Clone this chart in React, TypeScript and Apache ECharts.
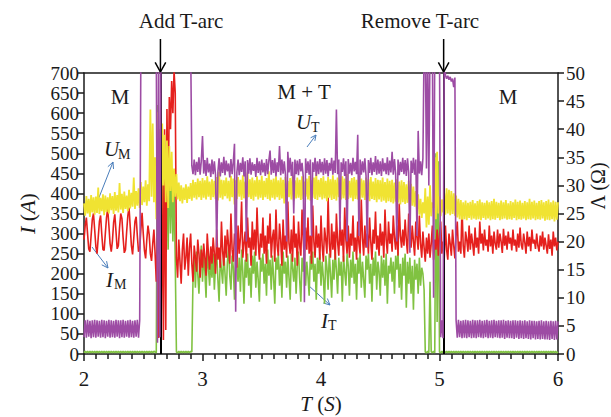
import React, { useEffect, useRef } from "react";
import * as echarts from "echarts";

// time base of the recorded signals (s)
const T_START = 2;
const T_STEP = 0.01;

const X_TICKS = [2, 3, 4, 5, 6];
const I_AXIS = { min: 0, max: 700, step: 50 };
const U_AXIS = { min: 0, max: 50, step: 5 };

// U_T (V) – purple, right axis
const U_T = [
  3.0,6.0,2.9,6.1,3.1,5.9,2.8,6.0,3.0,6.1,
  2.9,6.0,3.1,5.9,2.9,6.1,3.0,6.0,2.8,5.9,
  3.1,6.1,2.9,6.0,3.0,5.9,2.9,6.1,3.1,6.0,
  2.8,6.0,3.0,6.1,2.9,5.9,3.1,6.0,2.9,6.1,
  3.0,5.9,2.9,6.0,3.1,6.1,2.9,6.0,55,55,
  55,55,55,55,55,55,55,55,55,55,
  55,55,2,55,3,55,55,55,55,55,
  55,55,55,55,55,55,55,55,55,55,
  55,55,55,55,55,55,55,55,55,55,
  55,33.5,32.0,34.6,31.8,34.2,32.4,35.0,31.9,34.4,
  38.8,32.1,34.5,31.7,34.9,32.3,33.9,31.5,34.6,32.0,
  34.3,31.9,19.0,32.4,34.8,31.6,34.1,32.2,35.1,31.8,
  34.4,32.5,33.9,31.4,34.7,32.0,34.2,37.4,7.5,32.3,
  34.6,31.8,34.0,32.4,35.0,31.6,34.3,20.0,34.5,32.1,
  34.8,31.9,34.1,32.6,33.8,31.5,34.9,32.2,34.3,31.8,
  34.6,32.3,34.0,31.7,34.7,32.0,34.4,36.2,31.9,34.5,
  32.2,34.8,31.6,34.1,32.4,37.0,31.8,34.6,32.1,34.3,
  31.9,20.0,36.0,32.3,34.9,31.7,34.2,25.0,34.6,32.0,
  34.4,31.8,34.7,32.5,34.0,31.6,9.2,34.8,32.2,34.3,
  31.9,34.6,21.0,34.1,32.4,34.9,31.7,34.3,32.0,34.7,
  32.3,34.2,31.8,34.8,32.1,34.5,31.6,34.0,32.6,34.9,
  31.9,34.4,32.2,43.5,32.0,34.6,22.0,34.1,32.4,34.8,
  31.7,34.3,20.0,34.7,32.1,34.0,31.8,34.9,32.5,34.2,
  32.0,39.0,21.0,34.6,31.9,34.3,32.3,34.8,31.7,19.0,
  34.5,32.2,34.9,31.8,34.1,32.4,35.2,31.9,34.6,32.1,
  34.3,31.7,34.8,32.5,34.0,32.0,35.0,31.8,34.4,32.3,
  36.0,31.9,34.7,32.1,20.0,34.6,31.8,34.2,32.4,34.9,
  32.0,34.5,31.7,34.8,32.3,18.0,34.4,32.2,34.9,31.9,
  34.6,21.0,39.7,32.1,34.3,31.8,34.8,55,55,33.0,
  55,30.0,55,55,55,10.0,55,55,55,55,
  55,3.0,6.0,2.8,55,49.6,49.0,49.5,48.8,49.3,
  48.5,49.0,47.5,49.2,6.0,2.9,6.1,3.0,5.9,2.8,
  6.0,2.9,6.1,2.8,6.0,3.0,5.9,2.8,6.1,2.9,
  6.0,2.8,6.0,3.0,6.1,2.9,5.9,2.8,6.0,3.0,
  6.1,2.8,5.9,2.9,6.0,2.8,6.1,3.0,5.9,2.9,
  6.0,2.8,6.0,2.9,6.1,2.7,5.9,2.9,6.0,2.8,
  5.9,2.8,6.0,2.7,6.0,2.9,5.9,2.7,6.0,2.8,
  5.9,2.7,6.0,2.8,5.8,2.7,6.0,2.6,5.9,2.8,
  5.9,2.6,5.8,2.7,5.9,2.6,6.0,2.7,5.8,2.6,
  5.9,2.6,5.8,2.5,5.9,2.7,5.8,2.5,5.9,2.6,
  5.8,
];

// U_M (V) – yellow, right axis
const U_M = [
  26.8,24.6,28.1,25.0,27.6,24.4,28.3,25.2,27.9,24.8,
  28.0,25.1,29.6,24.9,27.8,25.4,28.4,24.7,28.2,25.3,
  27.9,25.0,28.6,25.6,28.1,24.9,28.8,25.5,28.3,25.2,
  30.4,25.7,28.5,25.1,28.9,25.8,28.2,25.4,29.2,25.9,
  28.7,26.2,31.4,25.8,29.0,26.4,29.5,26.0,30.6,26.5,
  29.8,27.0,30.9,26.4,30.2,27.2,43.5,28.0,41.0,27.0,
  35.0,24.0,43.0,26.0,40.0,23.0,41.0,30.0,39.0,27.0,
  38.0,26.0,37.0,29.0,36.0,27.0,33.0,28.0,32.0,27.5,
  30.5,27.2,30.0,26.8,29.6,27.4,30.2,26.9,29.8,27.6,
  30.4,27.3,31.0,27.8,30.6,27.5,31.2,27.9,30.8,27.4,
  31.3,27.8,30.9,27.5,31.6,28.0,30.7,27.4,31.1,27.9,
  30.8,27.6,31.5,27.3,32.4,27.8,31.0,27.5,30.9,28.1,
  31.4,27.7,30.8,27.2,31.7,27.9,31.2,26.6,30.9,27.6,
  31.5,28.0,31.0,27.4,31.8,27.7,30.7,27.5,32.3,27.9,
  31.1,27.6,31.4,27.3,30.9,28.0,31.6,27.5,31.0,27.8,
  31.7,27.4,30.8,27.9,31.3,27.6,32.5,27.3,31.0,27.8,
  31.2,27.5,31.6,27.9,30.9,27.4,31.4,27.7,31.0,26.8,
  31.5,27.6,30.8,27.9,31.3,27.5,31.8,27.3,30.9,27.7,
  31.4,27.8,31.0,27.4,31.6,27.6,30.7,28.0,31.2,27.5,
  31.7,27.3,30.9,27.8,31.4,27.6,32.2,27.4,31.0,27.9,
  31.3,27.5,31.6,27.7,30.8,27.2,31.5,27.8,31.1,27.4,
  31.8,27.6,31.0,27.3,31.4,27.9,30.9,27.5,31.6,27.7,
  31.2,27.4,32.0,27.6,30.8,27.8,31.3,27.2,31.5,27.6,
  31.0,27.5,31.7,27.3,31.2,27.8,30.9,27.4,31.4,27.6,
  31.1,27.2,31.5,27.6,30.7,27.4,31.3,27.0,31.0,27.5,
  30.9,27.1,31.4,27.3,30.6,26.9,31.2,27.2,30.8,27.0,
  31.0,26.8,30.5,27.1,31.1,26.9,30.7,26.6,30.9,27.0,
  30.6,26.7,30.2,26.9,30.8,26.5,30.3,26.4,29.8,26.2,
  29.0,25.4,28.4,24.8,27.6,24.2,27.0,25.0,29.5,22.5,
  28.0,23.0,30.0,24.5,27.0,26.0,35.0,24.0,36.0,25.0,
  28.0,24.5,27.5,25.2,28.6,24.8,29.5,25.0,29.2,24.7,
  29.0,24.9,28.6,24.6,28.2,24.3,27.6,24.0,27.4,23.9,
  27.0,24.0,27.3,23.8,26.9,24.2,27.1,23.9,27.4,24.1,
  26.8,23.9,27.2,24.0,27.5,23.8,27.0,24.2,26.9,23.9,
  27.3,24.1,27.0,23.8,27.2,24.0,27.6,23.9,27.1,24.2,
  26.9,23.8,27.3,24.0,27.0,24.1,27.4,23.9,26.8,24.0,
  27.2,23.9,27.0,24.2,27.5,23.8,27.1,24.0,27.3,23.9,
  26.9,24.1,27.2,23.8,27.0,24.0,27.6,23.9,27.1,24.1,
  27.3,23.8,26.9,24.0,27.2,23.9,27.4,24.1,27.0,23.7,
  27.2,23.9,27.5,23.8,27.0,24.0,27.3,23.6,27.1,23.9,
  27.0,
];

// I_M (A) – red, left axis
const I_M = [
  285,320,340,300,262,255,295,335,350,310,
  268,250,290,330,345,298,260,258,300,340,
  362,320,275,255,282,328,348,305,262,270,
  315,350,338,290,252,260,305,345,365,318,
  270,248,288,330,342,295,255,262,310,352,
  300,258,238,285,320,298,250,232,275,310,
  250,180,300,40,270,25,470,35,560,60,
  610,380,640,560,680,600,705,650,240,190,
  285,230,175,260,300,210,240,290,195,265,
  300,225,180,270,240,205,285,250,190,260,
  215,275,240,195,300,250,210,268,225,290,
  250,200,310,235,265,215,330,255,220,295,
  240,310,270,225,350,260,230,300,275,215,
  320,250,290,380,240,275,305,230,340,265,
  290,220,330,260,310,245,365,280,235,300,
  265,340,250,295,225,320,275,350,240,290,
  310,230,360,270,245,325,285,220,335,260,
  295,240,380,275,250,310,230,345,265,300,
  220,330,270,245,360,285,235,315,260,340,
  250,295,225,370,280,240,320,265,300,235,
  345,270,230,315,285,250,390,275,240,325,
  260,305,235,350,280,245,330,270,310,230,
  365,285,250,320,240,300,270,345,255,290,
  235,330,275,250,385,290,245,320,265,300,
  250,340,280,235,310,275,355,260,295,245,
  325,270,305,240,360,285,250,330,275,300,
  255,345,290,260,320,245,375,295,265,310,
  270,335,285,250,350,300,265,320,280,245,
  330,290,260,345,275,240,305,265,230,290,
  250,300,240,275,320,235,285,260,310,245,
  295,330,250,280,240,320,260,235,300,275,
  245,310,270,238,295,330,255,280,250,365,
  270,240,305,285,255,320,260,300,275,245,
  315,265,290,250,330,275,300,258,310,270,
  285,255,320,268,295,250,305,275,260,310,
  265,300,280,252,312,270,295,260,305,275,
  290,258,310,270,285,255,300,265,315,272,
  260,300,278,250,305,268,292,256,310,275,
  285,262,300,270,255,295,268,305,260,290,
  270,250,298,262,285,245,305,268,290,258,
  280,
];

// I_T (A) – green, left axis
const I_T = [
  3,7,3,7,3,7,3,7,3,7,
  3,7,3,7,3,7,3,7,3,7,
  3,7,3,7,3,7,3,7,3,7,
  3,7,3,7,3,7,3,7,3,7,
  3,7,3,7,3,7,3,7,3,7,
  3,7,3,7,3,7,3,7,3,7,
  5,3,620,250,560,200,480,300,500,350,
  470,260,480,300,450,280,420,230,5,3,
  7,3,7,3,7,3,7,3,7,3,
  7,5,190,240,165,255,200,150,230,270,
  180,245,205,140,260,215,170,235,190,250,
  160,225,250,185,130,240,210,175,255,200,
  145,230,265,195,160,245,215,135,250,220,
  180,240,155,260,205,125,235,190,250,170,
  215,140,245,200,255,165,230,185,130,240,
  205,250,175,225,145,260,195,235,160,245,
  190,125,240,210,250,170,225,140,255,200,
  230,165,245,190,135,250,215,180,240,150,
  225,255,185,130,240,205,250,170,230,195,
  145,245,210,255,180,225,135,240,200,250,
  170,230,190,125,245,215,160,250,200,140,
  235,185,255,210,150,240,195,230,130,245,
  205,170,250,220,145,235,190,255,175,225,
  135,240,200,250,165,230,185,140,245,210,
  250,175,225,130,240,195,255,160,230,205,
  145,245,190,235,170,250,125,220,200,240,
  180,230,150,245,210,255,165,225,135,240,
  195,250,115,230,175,240,150,220,110,235,
  185,225,150,240,170,215,200,160,5,3,
  7,3,180,6,3,7,3,500,80,480,
  5,3,7,3,7,3,7,3,7,3,
  7,3,7,3,7,3,7,3,7,3,
  7,3,7,3,7,3,7,3,7,3,
  7,3,7,3,7,3,7,3,7,3,
  7,3,7,3,7,3,7,3,7,3,
  7,3,7,3,7,3,7,3,7,3,
  7,3,7,3,7,3,7,3,7,3,
  7,3,7,3,7,3,7,3,7,3,
  7,3,7,3,7,3,7,3,7,3,
  7,3,7,3,7,3,7,3,7,3,
  5,
];

const EVENT_TIMES = [2.645, 5.035];
const EVENT_NAMES = ["Add T-arc", "Remove T-arc"];
const RIGHT_AXIS_NAME = "Λ (Ω)";

const FONT = '"Liberation Serif", "DejaVu Serif", serif';
const INK = "#1a1a1a";
const C_PURPLE = "#9d4ca4";
const C_YELLOW = "#f0e332";
const C_RED = "#e5201d";
const C_GREEN = "#80c241";
const C_BLUE = "#4a7ebb";

function toPairs(arr: number[]) {
  return arr.map((v, i) => [+(T_START + i * T_STEP).toFixed(2), v]);
}

function arrow(x1: number, y1: number, x2: number, y2: number, color: string, w: number, head: number, spread = 0.45) {
  const ang = Math.atan2(y2 - y1, x2 - x1);
  const p1 = [x2 - head * Math.cos(ang - spread), y2 - head * Math.sin(ang - spread)];
  const p2 = [x2 - head * Math.cos(ang + spread), y2 - head * Math.sin(ang + spread)];
  return [
    { type: "line", silent: true, shape: { x1, y1, x2, y2 }, style: { stroke: color, lineWidth: w } },
    { type: "polyline", silent: true, shape: { points: [p1, [x2, y2], p2] }, style: { stroke: color, lineWidth: w, fill: null } },
  ];
}

function txt(x: number, y: number, text: string, size: number, italic = false, align = "center", rotation = 0) {
  return {
    type: "text",
    silent: true,
    x,
    y,
    rotation,
    style: {
      text,
      fill: INK,
      font: `${italic ? "italic " : ""}${size}px ${FONT}`,
      align,
      verticalAlign: "middle",
    },
  };
}

export default function App() {
  const ref = useRef<HTMLDivElement>(null);

  useEffect(() => {
    if (!ref.current) return;
    const chart = echarts.init(ref.current, undefined, { renderer: "svg" });

    const lineSeries = (name: string, data: number[], color: string, yAxisIndex: number, z: number, width: number) => ({
      name,
      type: "line",
      data: toPairs(data),
      yAxisIndex,
      showSymbol: false,
      symbol: "none",
      clip: true,
      z,
      lineStyle: { color, width },
      itemStyle: { color },
      emphasis: { disabled: true },
    });

    const axisLineStyle = { color: INK, width: 1.5 };
    const yLabel = { color: INK, fontFamily: FONT, fontSize: 19, showMinLabel: true, showMaxLabel: true };

    chart.setOption({
      animation: false,
      backgroundColor: "#ffffff",
      grid: { left: 84, right: 53, top: 73, bottom: 63, containLabel: false, outerBoundsMode: "none" },
      xAxis: [
        {
          type: "value",
          min: X_TICKS[0],
          max: X_TICKS[X_TICKS.length - 1],
          interval: 1,
          name: "{i|T} ({i|S})",
          nameLocation: "middle",
          nameGap: 33,
          nameTextStyle: {
            color: INK,
            fontFamily: FONT,
            fontSize: 21,
            rich: { i: { fontStyle: "italic", fontFamily: FONT, fontSize: 21, color: INK } },
          },
          axisLine: { show: true, onZero: false, lineStyle: axisLineStyle },
          axisTick: { show: true, inside: false, length: 7, lineStyle: axisLineStyle },
          minorTick: { show: true, splitNumber: 10, length: 5, lineStyle: { color: INK, width: 1.5 } },
          axisLabel: { color: INK, fontFamily: FONT, fontSize: 21, margin: 14 },
          splitLine: { show: false },
        },
        {
          type: "value",
          position: "top",
          min: X_TICKS[0],
          max: X_TICKS[X_TICKS.length - 1],
          axisLine: { show: true, onZero: false, lineStyle: axisLineStyle },
          axisTick: { show: false },
          axisLabel: { show: false },
          splitLine: { show: false },
        },
      ],
      yAxis: [
        {
          type: "value",
          min: I_AXIS.min,
          max: I_AXIS.max,
          interval: I_AXIS.step,
          position: "left",
          name: "{i|I} ({i|A})",
          nameLocation: "middle",
          nameGap: 46,
          nameTextStyle: {
            color: INK,
            fontFamily: FONT,
            fontSize: 22,
            rich: { i: { fontStyle: "italic", fontFamily: FONT, fontSize: 22, color: INK } },
          },
          axisLine: { show: true, onZero: false, lineStyle: axisLineStyle },
          axisTick: { show: true, inside: false, length: 6, lineStyle: axisLineStyle },
          axisLabel: { ...yLabel, margin: 5 },
          splitLine: { show: false },
        },
        {
          type: "value",
          min: U_AXIS.min,
          max: U_AXIS.max,
          interval: U_AXIS.step,
          position: "right",
          axisLine: { show: true, onZero: false, lineStyle: axisLineStyle },
          axisTick: { show: true, inside: false, length: 6, lineStyle: axisLineStyle },
          axisLabel: { ...yLabel, margin: 8 },
          splitLine: { show: false },
        },
      ],
      series: [
        lineSeries("I_T", I_T, C_GREEN, 0, 2, 1.6),
        lineSeries("I_M", I_M, C_RED, 0, 3, 1.6),
        lineSeries("U_M", U_M, C_YELLOW, 1, 4, 1.8),
        {
          ...lineSeries("U_T", U_T, C_PURPLE, 1, 5, 1.6),
          markLine: {
            silent: true,
            symbol: ["none", "none"],
            label: { show: false },
            lineStyle: { color: "#000", width: 2, type: "solid" },
            data: EVENT_TIMES.map((t) => ({ xAxis: t })),
          },
        },
      ],
    });

    // annotation layer (positions from the axes)
    const px = (t: number) => chart.convertToPixel({ xAxisIndex: 0 }, t) as number;
    const topY = chart.convertToPixel({ yAxisIndex: 0 }, I_AXIS.max) as number;

    const g: any[] = [];
    EVENT_TIMES.forEach((t) => {
      const x = px(t);
      g.push(...arrow(x, 39, x, topY - 1, "#000", 1.5, 11, 0.5));
    });
    g.push(txt(181, 21, EVENT_NAMES[0], 21));
    g.push(txt(420, 21, EVENT_NAMES[1], 21));

    g.push(txt(120, 97, "M", 21));
    g.push(txt(304, 92, "M + T", 21));
    g.push(txt(508, 97, "M", 21));

    // right axis title
    g.push(txt(598, 186, RIGHT_AXIS_NAME, 20, false, "center", Math.PI / 2));

    // series labels with subscripts
    g.push(txt(104, 149, "U", 21, true, "left"));
    g.push(txt(118, 154, "M", 14, false, "left"));
    g.push(txt(106, 280, "I", 21, true, "left"));
    g.push(txt(114, 284, "M", 14, false, "left"));
    g.push(txt(296, 122, "U", 21, true, "left"));
    g.push(txt(311, 127, "T", 14, false, "left"));
    g.push(txt(321, 321, "I", 21, true, "left"));
    g.push(txt(328, 325, "T", 14, false, "left"));

    g.push(...arrow(98, 200, 113, 162, C_BLUE, 1, 7));
    g.push(...arrow(92, 247, 108, 268, C_BLUE, 1, 7));
    g.push(...arrow(307, 147, 316, 135, C_BLUE, 1, 6));
    g.push(...arrow(308, 285, 330, 305, C_BLUE, 1, 7));

    chart.setOption({ graphic: g });

    return () => chart.dispose();
  }, []);

  return (
    <div
      ref={ref}
      style={{ position: "absolute", left: 0, top: 0, width: 611, height: 417, background: "#fff" }}
    />
  );
}
